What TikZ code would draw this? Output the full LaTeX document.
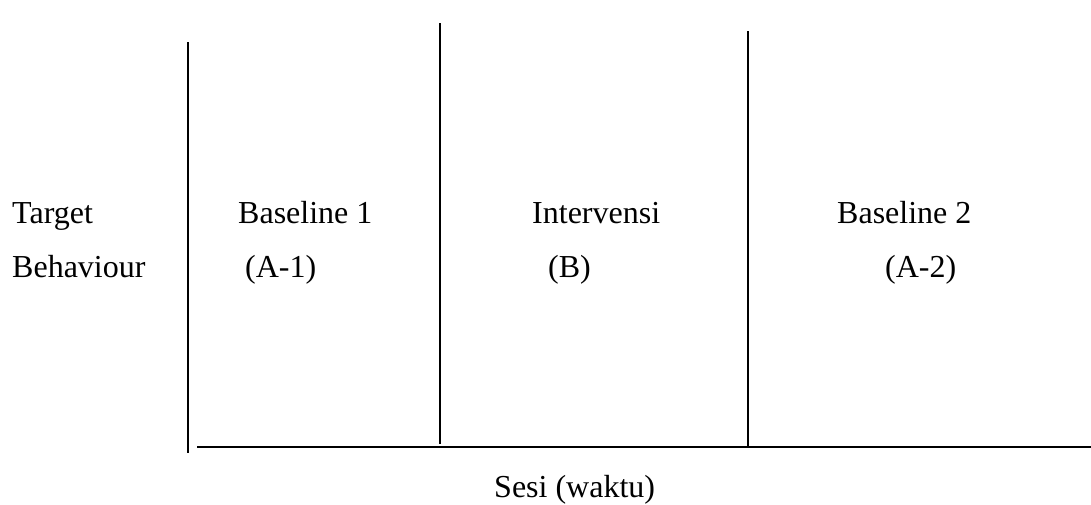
\documentclass[tikz,border=0pt]{standalone}
\usepackage{fontspec}
\setmainfont{Liberation Serif}
\begin{document}
\begin{tikzpicture}[x=1pt,y=-1pt,
  axisline/.style={line width=1.8pt,black},
  lbl/.style={anchor=base west,inner sep=0pt,font=\fontsize{32}{38}\selectfont}]
\useasboundingbox (0,0) rectangle (1091,504);
% coordinates
\coordinate (ytop) at (188,42);
\coordinate (ybot) at (188,453);
\coordinate (xl) at (197,447);
\coordinate (xr) at (1091,447);
\coordinate (d1t) at (440,23);
\coordinate (d1b) at (440,444);
\coordinate (d2t) at (748,31);
\coordinate (d2b) at (748,447);
% lines
\draw[axisline] (ytop) -- (ybot);
\draw[axisline] (xl) -- (xr);
\draw[axisline] (d1t) -- (d1b);
\draw[axisline] (d2t) -- (d2b);
% labels
\node[lbl] (t1) at (12,223) {Target};
\node[lbl] (t2) at (12,277) {Behaviour};
\node[lbl] (b1) at (238,223) {Baseline 1};
\node[lbl] (a1) at (245,277) {(A-1)};
\node[lbl] (iv) at (532,223) {Intervensi};
\node[lbl] (bb) at (548,277) {(B)};
\node[lbl] (b2) at (837,223) {Baseline 2};
\node[lbl] (a2) at (885,277) {(A-2)};
\node[lbl] (ss) at (494,497) {Sesi (waktu)};
\end{tikzpicture}
\end{document}
